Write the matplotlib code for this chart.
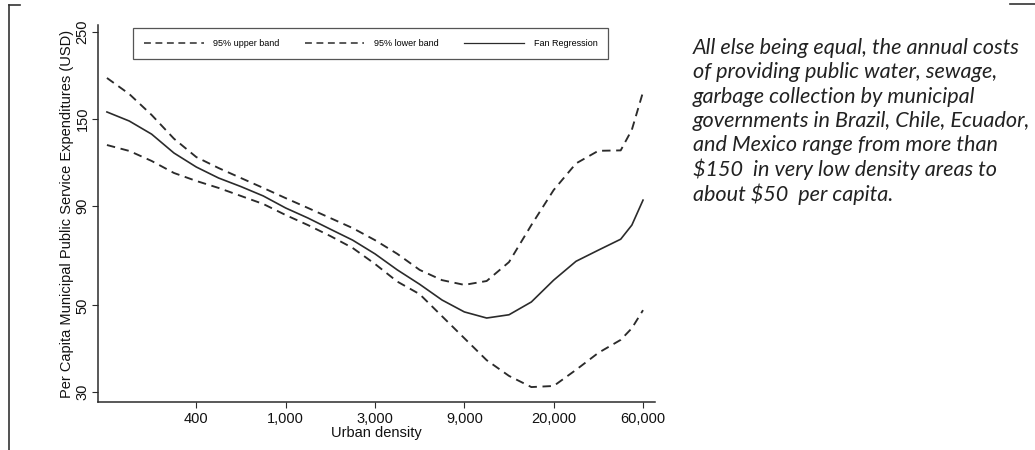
import matplotlib
matplotlib.use("Agg")
import matplotlib.pyplot as plt
from matplotlib.lines import Line2D

plt.rcParams["font.family"] = ["Liberation Sans", "DejaVu Sans"]

# ---- Data (x = ln urban density, y = USD per capita) -------------------------
ln_density = [5.0, 5.25, 5.5, 5.75, 6.0, 6.25, 6.5, 6.75, 7.0, 7.25, 7.5, 7.75,
              8.0, 8.25, 8.5, 8.75, 9.0, 9.25, 9.5, 9.75, 10.0, 10.25, 10.5,
              10.75, 10.875, 11.0]
upper_band = [190.7, 173.5, 153.4, 133.4, 119.7, 112.2, 105.8, 99.8, 94.0, 88.7,
              83.6, 78.8, 73.4, 67.7, 61.6, 58.0, 56.4, 57.7, 64.5, 80.2, 98.6,
              115.3, 124.2, 124.5, 140.6, 175.6]
fan_reg = [156.1, 148.0, 137.0, 122.6, 112.9, 105.8, 100.6, 95.2, 88.7, 83.6,
           78.3, 73.4, 67.7, 61.6, 56.6, 51.6, 48.1, 46.4, 47.3, 51.0, 58.0,
           64.8, 69.2, 73.8, 80.2, 92.9]
lower_band = [128.5, 124.1, 117.0, 109.0, 104.0, 99.8, 95.2, 90.8, 85.1, 80.2,
              75.2, 70.1, 63.8, 57.5, 53.4, 46.9, 41.2, 36.2, 33.0, 30.9, 31.1,
              34.2, 37.8, 40.8, 43.7, 48.6]

x_ticks = [6, 7, 8, 9, 10, 11]
x_ticklabels = ["400", "1,000", "3,000", "9,000", "20,000", "60,000"]
y_ticks = [30, 50, 90, 150, 250]
y_ticklabels = ["30", "50", "90", "150", "250"]

note_lines = [
    "All else being equal, the annual costs",
    "of providing public water, sewage,",
    "garbage collection by municipal",
    "governments in Brazil, Chile, Ecuador,",
    "and Mexico range from more than",
    "\\$150  in very low density areas to",
    "about \\$50  per capita.",
]

# ---- Figure ------------------------------------------------------------------
W, H = 1035, 450
fig = plt.figure(figsize=(W / 100, H / 100), dpi=100)
ax = fig.add_axes([98 / W, 1 - 402 / H, (655 - 98) / W, (402 - 25) / H])

ink = "#2b2b2b"
dash = (0, (4.5, 3.0))
ax.plot(ln_density, upper_band, color=ink, lw=1.35, ls=dash)
ax.plot(ln_density, lower_band, color=ink, lw=1.35, ls=dash)
ax.plot(ln_density, fan_reg, color=ink, lw=1.2)

ax.set_yscale("log")
ax.set_xlim(4.9, 11.134)
ax.set_ylim(28.3, 260.5)
ax.set_xticks(x_ticks)
ax.set_xticklabels(x_ticklabels, fontsize=10.5)
ax.set_yticks(y_ticks)
ax.set_yticklabels(y_ticklabels, fontsize=10.5, rotation=90, va="center")
ax.yaxis.set_minor_locator(matplotlib.ticker.NullLocator())
ax.tick_params(direction="out", length=4, width=0.8, color=ink, labelcolor="#111")
ax.tick_params(axis="y", pad=2)
ax.tick_params(axis="x", pad=3)
for s in ("top", "right"):
    ax.spines[s].set_visible(False)
for s in ("left", "bottom"):
    ax.spines[s].set_color(ink)
    ax.spines[s].set_linewidth(1.1)

ax.set_xlabel("Urban density", fontsize=10.5, labelpad=0, color="#111")
ax.set_ylabel("Per Capita Municipal Public Service Expenditures (USD)",
              fontsize=10.5, labelpad=1, color="#111")

handles = [
    Line2D([], [], color=ink, lw=1.1, ls=dash),
    Line2D([], [], color=ink, lw=1.1, ls=dash),
    Line2D([], [], color=ink, lw=0.9),
]
leg = ax.legend(handles, ["95% upper band", "95% lower band", "Fan Regression"],
                loc="upper left", bbox_to_anchor=(0.063, 0.912, 0.853, 0.08),
                mode="expand", ncol=3, fontsize=6.5, handlelength=6.6,
                handletextpad=1.1, borderpad=1.2, borderaxespad=0,
                frameon=True, fancybox=False)
leg.get_frame().set_edgecolor(ink)
leg.get_frame().set_linewidth(0.9)

# right-hand note
for i, line in enumerate(note_lines):
    fig.text(693 / W, 1 - (48 + i * 24.3) / H, line, fontsize=15.6,
             family="Lato", style="italic", color="#222",
             va="center", ha="left")

# screenshot frame remnants
fig.add_artist(Line2D([9 / W, 9 / W], [0, 1 - 5 / H], color="#333", lw=1.2))
fig.add_artist(Line2D([9 / W, 20 / W], [1 - 5 / H, 1 - 5 / H], color="#333", lw=1.2))
fig.add_artist(Line2D([1010 / W, 1], [1 - 4 / H, 1 - 4 / H], color="#333", lw=1.2))

fig.savefig("out.png", dpi=100)
